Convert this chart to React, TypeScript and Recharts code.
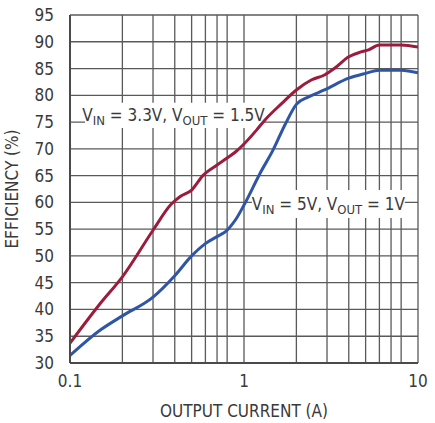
import { LineChart, Line, XAxis, YAxis, CartesianGrid, ReferenceArea, Label } from 'recharts';

// output current (A) and efficiency (%) for VIN = 3.3V, VOUT = 1.5V
const redX = [0.1, 0.15, 0.2, 0.3, 0.38, 0.43, 0.5, 0.58, 0.7, 0.8, 0.9, 1.0, 1.18, 1.32, 1.65, 2.0, 2.45, 2.9, 3.3, 4.0, 4.7, 5.2, 6.0, 8.0, 10];
const redY = [33.7, 41.2, 46.1, 54.8, 59.6, 61.1, 62.3, 65.0, 67.0, 68.3, 69.5, 70.9, 73.5, 75.4, 78.5, 81.0, 82.9, 83.8, 85.0, 87.2, 88.1, 88.5, 89.4, 89.4, 89.0];

// VIN = 5V, VOUT = 1V
const blueX = [0.1, 0.15, 0.2, 0.3, 0.4, 0.5, 0.6, 0.7, 0.8, 0.85, 0.9, 1.0, 1.24, 1.47, 1.72, 2.0, 2.35, 2.9, 4.0, 5.0, 6.0, 8.0, 10];
const blueY = [31.4, 36.2, 38.8, 42.3, 46.3, 50.0, 52.3, 53.6, 54.8, 55.8, 56.9, 59.5, 65.5, 69.8, 74.5, 78.3, 79.7, 81.0, 83.2, 84.1, 84.7, 84.7, 84.2];

const xTicks = [0.1, 0.2, 0.3, 0.4, 0.5, 0.6, 0.7, 0.8, 0.9, 1, 2, 3, 4, 5, 6, 7, 8, 9, 10];
const xLabels = [0.1, 1, 10];
const yTicks = [30, 35, 40, 45, 50, 55, 60, 65, 70, 75, 80, 85, 90, 95];

const redData = redX.map((x, i) => ({ x, y: redY[i] }));
const blueData = blueX.map((x, i) => ({ x, y: blueY[i] }));

const FONT = '"DejaVu Sans Condensed", "DejaVu Sans", Arial, sans-serif';
const TEXT = '#3a3a3a';

const annot = (vin: string, vout: string) => (props: any) => {
  const { x, y, width, height } = props.viewBox;
  return (
    <text
      x={x + width / 2}
      y={y + height / 2 + 6}
      textAnchor="middle"
      fontFamily={FONT}
      fontSize={17}
      fill={TEXT}
    >
      <tspan>V</tspan>
      <tspan fontSize={13} dy={4}>IN</tspan>
      <tspan dy={-4}>{` = ${vin}, V`}</tspan>
      <tspan fontSize={13} dy={4}>OUT</tspan>
      <tspan dy={-4}>{` = ${vout}`}</tspan>
    </text>
  );
};

const yTitle = (props: any) => {
  const { y, height } = props.viewBox;
  const cy = y + height / 2;
  return (
    <text
      x={12}
      y={cy}
      transform={`rotate(-90 12 ${cy})`}
      textAnchor="middle"
      dominantBaseline="central"
      fontFamily={FONT}
      fontSize={17}
      fill={TEXT}
    >
      EFFICIENCY (%)
    </text>
  );
};

export default function App() {
  return (
    <div style={{ position: 'absolute', left: 0, top: 0, background: '#fff' }}>
      <LineChart width={435} height={423} margin={{ top: 15, right: 17, left: 0, bottom: 0 }}>
        <CartesianGrid stroke="#5a5a5a" strokeWidth={1.3} />
        <XAxis
          type="number"
          dataKey="x"
          scale="log"
          domain={[0.1, 10]}
          ticks={xTicks}
          tickFormatter={(v: number) => (xLabels.includes(v) ? String(v) : '')}
          allowDataOverflow
          height={60}
          tickLine={false}
          axisLine={{ stroke: '#4a4a4a', strokeWidth: 2 }}
          tick={{ fill: TEXT, fontSize: 17, fontFamily: FONT }}
          tickMargin={6}
        >
          <Label value="OUTPUT CURRENT (A)" position="insideBottom" offset={6} fill={TEXT} fontSize={17} fontFamily={FONT} />
        </XAxis>
        <YAxis
          type="number"
          domain={[30, 95]}
          ticks={yTicks}
          width={70}
          tickLine={false}
          axisLine={{ stroke: '#4a4a4a', strokeWidth: 2 }}
          tick={{ fill: TEXT, fontSize: 17, fontFamily: FONT }}
          tickMargin={10}
          interval={0}
        >
          <Label content={yTitle} />
        </YAxis>
        <ReferenceArea x1={0.122} x2={1.27} y1={73.9} y2={78.6} fill="#fff" fillOpacity={1} stroke="none" label={annot('3.3V', '1.5V')} />
        <ReferenceArea x1={1.11} x2={8.4} y1={57.1} y2={62.3} fill="#fff" fillOpacity={1} stroke="none" label={annot('5V', '1V')} />
        <Line data={redData} dataKey="y" type="monotone" stroke="#9b1c3c" strokeWidth={3} dot={false} isAnimationActive={false} />
        <Line data={blueData} dataKey="y" type="monotone" stroke="#2f55a6" strokeWidth={3} dot={false} isAnimationActive={false} />
      </LineChart>
    </div>
  );
}
